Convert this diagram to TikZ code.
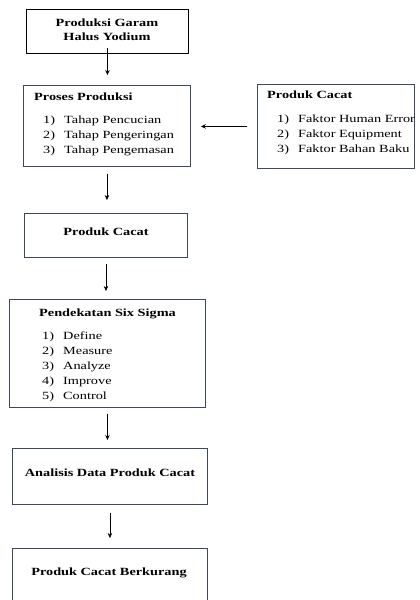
\documentclass[tikz,border=0pt]{standalone}
\usepackage{fontspec}
\setmainfont{Liberation Serif}[FakeStretch=1.3]
\usetikzlibrary{
  arrows.meta,
  positioning
}
\definecolor{boxline}{RGB}{62,72,92}
\tikzset{
  x=1pt, y=-1pt,
  box/.style={draw=boxline, line width=0.9pt, anchor=north west, inner sep=0pt},
  txt/.style={inner sep=0pt, anchor=base west, font=\fontsize{11}{15}\selectfont},
  ttl/.style={txt, font=\fontsize{11}{15}\selectfont\bfseries},
  flow/.style={-{Stealth[length=5pt,width=4.5pt]}, line width=0.6pt}
}

\begin{document}
\begin{tikzpicture}
    \useasboundingbox (0,0) rectangle (420,600);
    \node[box, draw=black, minimum width=162pt, minimum height=44pt] (garam) at (26,9) {};
    \node[box, minimum width=167pt, minimum height=81pt] (proses) at (23,85) {};
    \node[box, minimum width=157pt, minimum height=84pt] (faktor) at (257,84) {};
    \node[box, minimum width=163pt, minimum height=44pt] (cacat) at (24,213) {};
    \node[box, minimum width=196pt, minimum height=108pt] (sigma) at (9,299) {};
    \node[box, minimum width=195pt, minimum height=56pt] (analisis) at (12,448) {};
    \node[box, minimum width=195pt, minimum height=70pt] (kurang) at (12,548) {};

    \node[ttl, anchor=base] (garam1) at (107,26) {Produksi Garam};
    \node[ttl, anchor=base] (garam2) at (107,40.7) {Halus Yodium};
    \node[ttl] (prosesT) at (34,100.7) {Proses Produksi};
    \foreach \t [count=\i] in {Tahap Pencucian, Tahap Pengeringan, Tahap Pengemasan}
      \node[txt] (proses\i) at (43,108.5+15*\i) {\makebox[21pt][l]{\i)}\t};
    \node[ttl] (faktorT) at (267,98) {Produk Cacat};
    \foreach \t [count=\i] in {Faktor Human Error, Faktor Equipment, Faktor Bahan Baku}
      \node[txt] (faktor\i) at (277,107.5+15*\i) {\makebox[21pt][l]{\i)}\t};
    \node[ttl, anchor=base] (cacatT) at (106,235) {Produk Cacat};
    \node[ttl, anchor=base] (sigmaT) at (107.5,316) {Pendekatan Six Sigma};
    \foreach \t [count=\i] in {Define, Measure, Analyze, Improve, Control}
      \node[txt] (sigma\i) at (42,324+15*\i) {\makebox[21pt][l]{\i)}\t};
    \node[ttl, anchor=base] (analisisT) at (110,476) {Analisis Data Produk Cacat};
    \node[ttl, anchor=base] (kurangT) at (109,575.7) {Produk Cacat Berkurang};

    \draw[flow, shorten <=-6pt, shorten >=10pt] (garam.south) -- (garam.south |- proses.north);
    \draw[flow, shorten <=7pt, shorten >=13pt] (proses.south) -- (proses.south |- cacat.north);
    \draw[flow, shorten <=10pt, shorten >=10pt] (faktor.west) -- (faktor.west -| proses.east);
    \draw[flow, shorten <=6pt, shorten >=8pt] (cacat.south) -- (cacat.south |- sigma.north);
    \draw[flow, shorten <=6pt, shorten >=8pt] (sigma.south) -- (sigma.south |- analisis.north);
    \draw[flow, shorten <=8pt, shorten >=10pt] (analisis.south) -- (analisis.south |- kurang.north);
\end{tikzpicture}
\end{document}
